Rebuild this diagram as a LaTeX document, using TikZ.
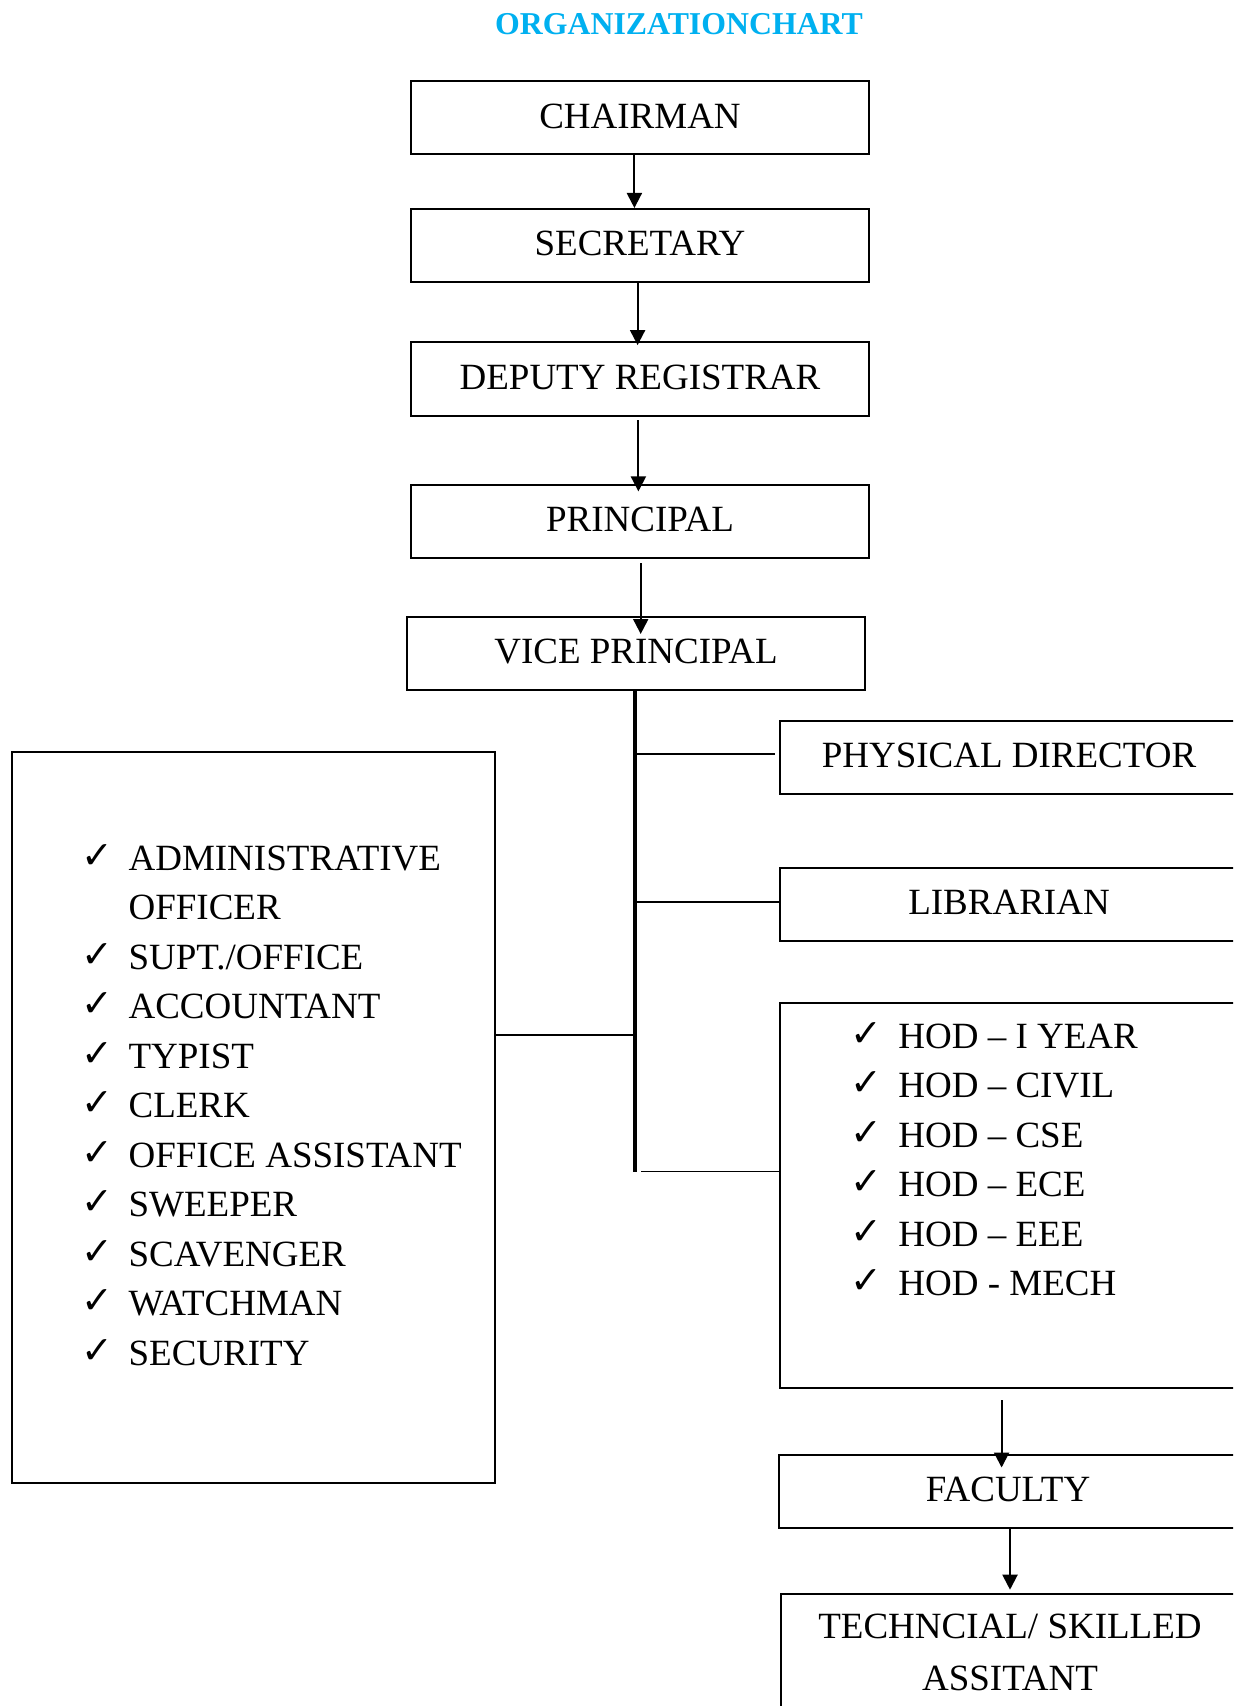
\documentclass[tikz,border=0pt]{standalone}
\usepackage{fontspec}
\setmainfont{Liberation Serif}
\newfontfamily\chkfont{DejaVu Sans}
\usetikzlibrary{arrows.meta}
\definecolor{titleblue}{HTML}{00B0F0}
\begin{document}
\begin{tikzpicture}[x=0.5pt,y=-0.5pt,
  box/.style={draw,line width=1pt,inner sep=0pt,minimum width=229pt,minimum height=36.5pt,font=\fontsize{18.5}{22}\selectfont,text height=12.3pt,text depth=2pt},
  frame/.style={draw,line width=1pt,inner sep=0pt},
  item/.style={anchor=base west,inner sep=0pt,font=\fontsize{18.5}{22}\selectfont},
  lbl/.style={anchor=base,inner sep=0pt,font=\fontsize{18.5}{22}\selectfont},
  chk/.style={anchor=base west,inner sep=0pt,font=\chkfont\bfseries\fontsize{19}{22}\selectfont},
  arr/.style={line width=1pt,-{Triangle[length=7.5pt,width=7.5pt]}},
  conn/.style={line width=0.9pt},
  trunk/.style={line width=2pt}]
\clip (0,0) rectangle (1233,1706);
\fill[white] (0,0) rectangle (1233,1706);

% title
\node[anchor=base,inner sep=0pt,text=titleblue,font=\bfseries\fontsize{15.9}{19}\selectfont] (title) at (679,34.4) {ORGANIZATIONCHART};

% main column
\node[box] (chair) at (640,118) {CHAIRMAN};
\node[box] (sec) at (640,245.5) {SECRETARY};
\node[box] (dep) at (640,379) {DEPUTY REGISTRAR};
\node[box] (prin) at (640,521.5) {PRINCIPAL};
\node[box] (vp) at (636,653.5) {VICE PRINCIPAL};

% right column
\node[box] (phys) at (1009,757) {PHYSICAL DIRECTOR};
\node[box] (lib) at (1009,904) {LIBRARIAN};
\node[frame,minimum width=229pt,minimum height=192.3pt] (hod) at (1009,1195.3) {};
\node[box] (fac) at (1008,1491) {FACULTY};
\node[frame,minimum width=229pt,minimum height=75pt] (tech) at (1010,1669.3) {};
\node[lbl] (tech1) at (1010,1638.3) {TECHNCIAL/ SKILLED};
\node[lbl] (tech2) at (1010,1690) {ASSITANT};

% left list box
\node[frame,minimum width=241.8pt,minimum height=365.7pt] (adm) at (253.6,1117.6) {};

% left list
\node[chk] (c0) at (80.6,868) {✓};
\node[item] (l0) at (128.2,870) {ADMINISTRATIVE};
\node[item] (l1) at (128.2,919.5) {OFFICER};
\node[chk] (c2) at (80.6,967) {✓};
\node[item] (l2) at (128.2,969) {SUPT./OFFICE};
\node[chk] (c3) at (80.6,1016.5) {✓};
\node[item] (l3) at (128.2,1018.5) {ACCOUNTANT};
\node[chk] (c4) at (80.6,1066) {✓};
\node[item] (l4) at (128.2,1068) {TYPIST};
\node[chk] (c5) at (80.6,1115.5) {✓};
\node[item] (l5) at (128.2,1117.5) {CLERK};
\node[chk] (c6) at (80.6,1165) {✓};
\node[item] (l6) at (128.2,1167) {OFFICE ASSISTANT};
\node[chk] (c7) at (80.6,1214.5) {✓};
\node[item] (l7) at (128.2,1216.5) {SWEEPER};
\node[chk] (c8) at (80.6,1264) {✓};
\node[item] (l8) at (128.2,1266) {SCAVENGER};
\node[chk] (c9) at (80.6,1313.5) {✓};
\node[item] (l9) at (128.2,1315.5) {WATCHMAN};
\node[chk] (c10) at (80.6,1363) {✓};
\node[item] (l10) at (128.2,1365) {SECURITY};

% HOD list
\node[chk] (h0c) at (849.6,1046) {✓};
\node[item] (h0) at (898,1048) {HOD – I YEAR};
\node[chk] (h1c) at (849.6,1095.5) {✓};
\node[item] (h1) at (898,1097.5) {HOD – CIVIL};
\node[chk] (h2c) at (849.6,1145) {✓};
\node[item] (h2) at (898,1147) {HOD – CSE};
\node[chk] (h3c) at (849.6,1194.5) {✓};
\node[item] (h3) at (898,1196.5) {HOD – ECE};
\node[chk] (h4c) at (849.6,1244) {✓};
\node[item] (h4) at (898,1246) {HOD – EEE};
\node[chk] (h5c) at (849.6,1293.5) {✓};
\node[item] (h5) at (898,1295.5) {HOD - MECH};

% arrows in main column
\draw[arr] ([xshift=-2.8pt]chair.south) -- ([xshift=-2.8pt]sec.north);
\draw[arr] ([xshift=-1.2pt]sec.south) -- ([xshift=-1.2pt,yshift=-1.8pt]dep.north);
\draw[arr] ([xshift=-0.8pt,yshift=-1.9pt]dep.south) -- ([xshift=-0.8pt,yshift=-3.7pt]prin.north);
\draw[arr] ([xshift=0.35pt,yshift=-2pt]prin.south) -- ([xshift=2.35pt,yshift=-9pt]vp.north);

% trunk and branches
\coordinate (tEnd) at (635.4,1172);
\draw[trunk] (vp.south -| tEnd) -- (tEnd);
\coordinate (jp) at (635.4,754.2);
\coordinate (jl) at (635.4,902.3);
\coordinate (jh) at (641,1171.4);
\coordinate (ja) at (635.4,1034.7);
\draw[conn] (jp) -- ([xshift=-2pt]phys.west |- jp);
\draw[conn] (jl) -- (lib.west |- jl);
\draw[conn] (jh) -- (hod.west |- jh);
\draw[conn] (adm.east |- ja) -- (ja);

% lower arrows
\draw[arr] ([xshift=-3.7pt,yshift=-5.7pt]hod.south) -- ([xshift=-3.2pt,yshift=-7pt]fac.north);
\draw[arr] ([xshift=1pt]fac.south) -- ([yshift=1.8pt]tech.north);
\end{tikzpicture}
\end{document}
